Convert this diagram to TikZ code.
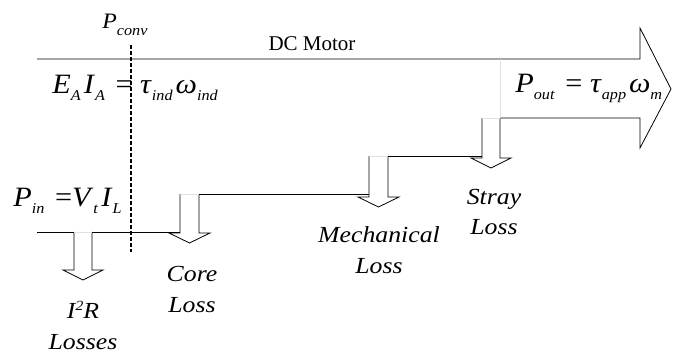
\documentclass[tikz,border=0pt]{standalone}
\usepackage{fontspec}
\setmainfont{Liberation Serif}
\newfontfamily\eqfont[FakeStretch=1.08]{Liberation Serif}
\newfontfamily\lossfont[FakeStretch=1.12]{Liberation Serif}
\usetikzlibrary{calc}

% quantity with a lowered subscript, all in italic text
\newcommand{\qsub}[2]{\textit{#1}\raisebox{-7pt}{\fontsize{15}{15}\selectfont\textit{#2}}\hspace{3pt}}

\begin{document}
\begin{tikzpicture}[x=1pt, y=-1pt, line width=0.8pt,
  every node/.style={inner sep=0pt},
  eqn/.style={font=\eqfont\fontsize{28}{32}\selectfont, anchor=base west},
  losslabel/.style={font=\lossfont\fontsize{23}{30.5}\selectfont\itshape, align=center, anchor=base},
  seam/.style={draw=black!12, line width=0.8pt}]

\useasboundingbox (0,0) rectangle (674,355);

% --- Sizes of the loss arrows ---
\def\headOver{11}
\def\tipDrop{10}

% --- Main power flow: input line, shaft and output arrow ---
\coordinate (topStart) at (37,59);
\coordinate (notchTop) at (640,59);
\coordinate (outTip) at (671,89);
\coordinate (strayJoin) at (500,118);
\draw (topStart) -- (notchTop) -- (640,28) -- (outTip) -- (640,148) -- (640,118) -- (strayJoin);

% --- Steps between the loss arrows ---
\draw (37,232) -- (74,232);
\draw (92,232) -- (180,232);
\draw (199,194) -- (369,194);
\draw (388,156) -- (482,156);

% --- Loss arrows (left x / right x / top y / bottom y) ---
\foreach \xl/\xr/\yt/\yb in {74/92/232/270, 180/199/194/233, 369/388/156/197, 482/500/118/158} {
    \pgfmathsetmacro{\xm}{(\xl+\xr)/2}
    \draw (\xl,\yt) -- (\xl,\yb) -- (\xl-\headOver,\yb) -- (\xm,\yb+\tipDrop)
        -- (\xr+\headOver,\yb) -- (\xr,\yb) -- (\xr,\yt);
    % light seam closing the top
    \draw[seam] (\xl,\yt) -- (\xr,\yt);
}
\draw[seam] (notchTop -| strayJoin) -- (strayJoin);

% --- Conversion boundary ---
\draw[line width=1.2pt, dash pattern=on 4pt off 2pt] (131,45) -- (131,252);

% --- Labels ---
\node[eqn, font=\eqfont\fontsize{22}{26}\selectfont] (pconv) at (102,29) {\qsub{P}{conv}};
\node[font=\fontsize{21}{21}\selectfont, anchor=base] (motor) at (312,51) {DC Motor};
\node[eqn] (econv) at (52,94) {\qsub{E}{A}\qsub{I}{A} = \qsub{τ}{ind}\qsub{ω}{ind}};
\node[eqn] (pin) at (13,207) {\qsub{P}{in} =\qsub{V}{t}\qsub{I}{L}};
\node[eqn] (pout) at (515,93) {\qsub{P}{out} = \qsub{τ}{app}\qsub{ω}{m}};

\node[losslabel] (cuLoss) at (83,349) {I\raisebox{8pt}{\fontsize{14}{14}\selectfont 2}R\\Losses};
\node[losslabel] (coreLoss) at (192,312) {Core\\Loss};
\node[losslabel] (mechLoss) at (379,273) {Mechanical\\Loss};
\node[losslabel] (strayLoss) at (494,235) {Stray\\Loss};

\end{tikzpicture}
\end{document}
